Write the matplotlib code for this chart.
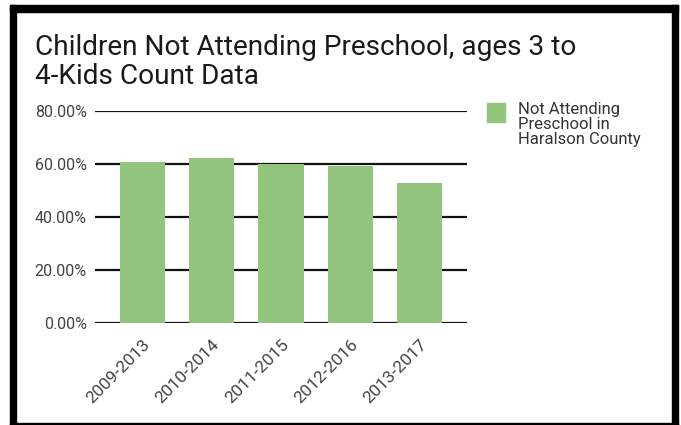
import matplotlib
matplotlib.use("Agg")
import matplotlib.pyplot as plt
from matplotlib.patches import Rectangle
from matplotlib.ticker import FuncFormatter

plt.rcParams['font.family'] = ['Roboto', 'DejaVu Sans']

periods = ["2009-2013", "2010-2014", "2011-2015", "2012-2016", "2013-2017"]
not_attending = [0.607, 0.623, 0.600, 0.593, 0.528]
series_name = "Not Attending\nPreschool in\nHaralson County"
title = "Children Not Attending Preschool, ages 3 to\n4-Kids Count Data"

W, H = 681, 425
fig = plt.figure(figsize=(W / 100, H / 100), dpi=100)

def px(x0, y0, x1, y1):
    # pixel box (top-left origin) -> figure fraction rect
    return (x0 / W, 1 - y1 / H, (x1 - x0) / W, (y1 - y0) / H)

ax = fig.add_axes(px(95, 111, 467, 323.3))

bar_color = "#93c47d"
x = range(len(periods))
ax.bar(x, not_attending, width=0.65, color=bar_color, zorder=3, label=series_name)

ax.set_ylim(0, 0.8)
ax.set_xlim(-0.68, 4.68)
ax.set_yticks([0, 0.2, 0.4, 0.6, 0.8])
ax.yaxis.set_major_formatter(FuncFormatter(lambda v, p: "{:.2f}%".format(v * 100)))
ax.grid(axis="y", color="#111111", linewidth=1.6, zorder=1)
for s in ax.spines.values():
    s.set_visible(False)
ax.tick_params(axis="y", length=0, labelsize=11.5, colors="#444444", pad=6)
ax.tick_params(axis="x", length=0, labelsize=12.5, colors="#444444", pad=10)
ax.set_xticks(list(x))
ax.set_xticklabels(periods, rotation=45, ha="right", rotation_mode="anchor")

fig.text(35 / W, 1 - 34 / H, title, fontsize=20.2, color="#1a1a1a",
         va="top", ha="left", linespacing=1.1)

# legend box and label
r = px(487, 103, 505, 122)
fig.add_artist(Rectangle(r[:2], r[2], r[3], transform=fig.transFigure, color=bar_color))
fig.text(518 / W, 1 - 102 / H, series_name, fontsize=12, color="#333333",
         va="top", ha="left", linespacing=0.98)

# black frame round the chart
for box in [(10, 5, 16, 425), (10, 5, 678, 12), (672, 5, 678, 425), (10, 423, 678, 425)]:
    r = px(*box)
    fig.add_artist(Rectangle(r[:2], r[2], r[3], transform=fig.transFigure,
                             color="black", zorder=10))

fig.savefig("out.png", dpi=100)
